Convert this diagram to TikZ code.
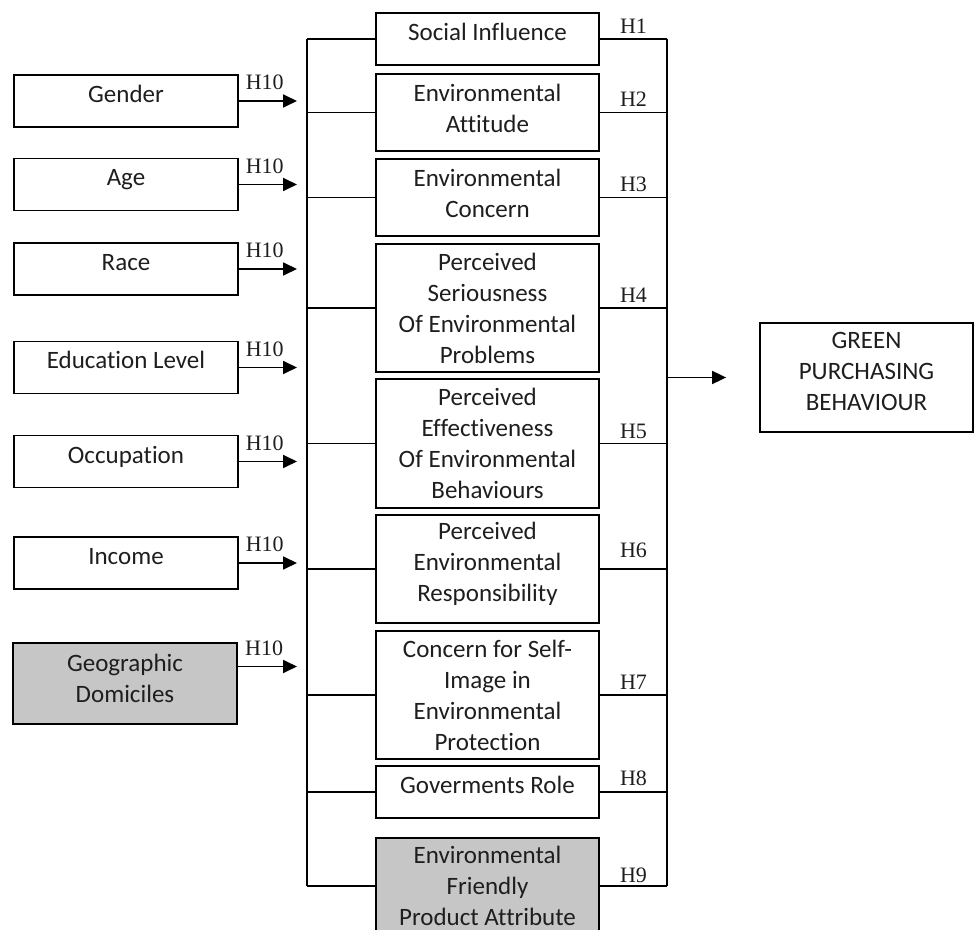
\documentclass[tikz,border=0pt]{standalone}
\usepackage{fontspec}
\setmainfont{Carlito}[Ligatures={NoCommon,NoContextual}]
\newfontfamily\hfont{Liberation Serif}
\usetikzlibrary{arrows.meta}

\definecolor{boxgray}{HTML}{C6C6C6}
\definecolor{ink}{HTML}{1E1E1E}

\tikzset{
  box/.style={draw, rectangle, align=center, inner sep=2pt, text=ink,
    font=\fontsize{12.5}{15.5}\selectfont},
  oneline/.style={text height=9pt, text depth=7.5pt},
  lift/.style={text depth=#1},
  factor/.style={box, minimum width=112pt, minimum height=26pt},
  driver/.style={box, minimum width=111.5pt},
  hyp/.style={font=\hfont\fontsize{11}{13}\selectfont, text=ink, inner sep=1pt, above=1.5pt},
  tip/.style={-{Triangle[length=7pt,width=6.5pt]}}
}

\begin{document}
\begin{tikzpicture}[x=0.5pt, y=-0.5pt, line width=0.9pt]
  \useasboundingbox (0,0) rectangle (974,930);
  \clip (0,0) rectangle (974,930);

  \coordinate (busL) at (307,0);
  \coordinate (busR) at (667,0);

  % demographics
  \begin{scope}[every node/.style={factor}]
    \node[oneline] (gender) at (126,101)   {Gender};
    \node[oneline] (age)    at (126,184.5) {Age};
    \node[oneline] (race)   at (126,269)   {Race};
    \node[oneline] (edu)    at (126,367.5) {Education Level};
    \node[oneline] (occ)    at (126,461.5) {Occupation};
    \node[oneline] (income) at (126,563)   {Income};
    \node[fill=boxgray, minimum height=40.5pt, lift=5.5pt] (geo) at (125,683.5) {Geographic\\Domiciles};
  \end{scope}

  % predictors
  \begin{scope}[every node/.style={driver}]
    \node[minimum height=26pt, oneline]   (social)    at (487.5,39)    {Social Influence};
    \node[minimum height=38.5pt, lift=4.5pt] (attitude)  at (487.5,112.5) {Environmental\\Attitude};
    \node[minimum height=38.5pt, lift=4pt]   (concern)   at (487.5,197.5) {Environmental\\Concern};
    \node[minimum height=64pt]   (serious)   at (487.5,308)   {Perceived\\Seriousness\\Of Environmental\\Problems};
    \node[minimum height=64.5pt] (effect)    at (487.5,443.5) {Perceived\\Effectiveness\\Of Environmental\\Behaviours};
    \node[minimum height=54pt, lift=6.8pt]   (respons)   at (487.5,569)   {Perceived\\Environmental\\Responsibility};
    \node[minimum height=64pt]   (selfimage) at (487.5,695)   {Concern for Self-\\Image in\\Environmental\\Protection};
    \node[minimum height=26pt, oneline]   (govt)      at (487.5,792)   {Goverments Role};
    \node[minimum height=48pt, fill=boxgray] (friendly) at (487.5,886) {Environmental\\Friendly\\Product Attribute};
  \end{scope}

  \node[box, minimum width=106.5pt, minimum height=54.5pt, lift=6.5pt] (gpb) at (866.5,377.5) {GREEN\\PURCHASING\\BEHAVIOUR};

  % buses
  \draw (social -| busL) -- (friendly -| busL);
  \draw (social.east -| busR) -- (friendly -| busR);

  \begin{scope}[every node/.style={hyp}]

    \begin{scope}[every edge/.style={draw, tip, shorten >=5pt}]
      \path (gender) edge node[pos=.38, above=2.5pt] {H10} (gender -| busL);
      \path (age)    edge node[pos=.38, above=2.5pt] {H10} (age -| busL);
      \path (race)   edge node[pos=.38, above=2.5pt] {H10} (race -| busL);
      \path (edu)    edge node[pos=.38, above=2.5pt] {H10} (edu -| busL);
      \path (occ)    edge node[pos=.38, above=2.5pt] {H10} (occ -| busL);
      \path (income) edge node[pos=.38, above=2.5pt] {H10} (income -| busL);
      \path ([yshift=8.5pt]geo.east) edge node[pos=.38, above=2.5pt] {H10} ([yshift=8.5pt]geo.east -| busL);
    \end{scope}

    \begin{scope}[every edge/.style={draw}]
      \path (social)    edge (social -| busL);
      \path (attitude)  edge (attitude -| busL);
      \path (concern)   edge (concern -| busL);
      \path (serious)   edge (serious -| busL);
      \path (effect)    edge (effect -| busL);
      \path (respons)   edge (respons -| busL);
      \path (selfimage) edge (selfimage -| busL);
      \path (govt)      edge (govt -| busL);
      \path (friendly)  edge (friendly -| busL);

      \path (social)    edge node {H1} (social -| busR);
      \path (attitude)  edge node {H2} (attitude -| busR);
      \path (concern)   edge node {H3} (concern -| busR);
      \path (serious)   edge node {H4} (serious -| busR);
      \path (effect)    edge node[above=-0.5pt] {H5} (effect -| busR);
      \path (respons)   edge node[above=2.5pt] {H6} (respons -| busR);
      \path (selfimage) edge node {H7} (selfimage -| busR);
      \path (govt)      edge node {H8} (govt -| busR);
      \path (friendly)  edge node[above=-1.5pt] {H9} (friendly -| busR);
    \end{scope}
  \end{scope}

  \path (gpb -| busR) edge[tip, shorten >=16.5pt] (gpb);

\end{tikzpicture}
\end{document}
